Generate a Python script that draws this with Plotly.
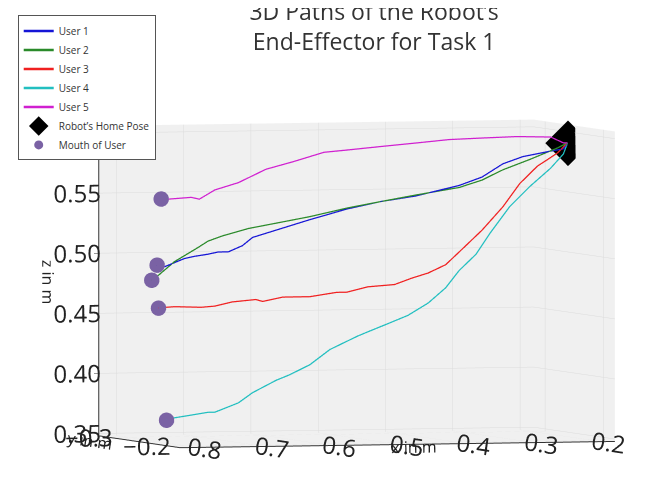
import plotly.graph_objects as go

# ---- data (metres) ----
user1_x = [0.789, 0.759, 0.744, 0.724, 0.709, 0.694, 0.673, 0.658, 0.623, 0.573, 0.518, 0.468, 0.416, 0.351, 0.317, 0.286, 0.256, 0.215, 0.196]
user1_z = [0.4933, 0.5000, 0.5017, 0.5033, 0.5050, 0.5050, 0.5100, 0.5167, 0.5225, 0.5308, 0.5392, 0.5450, 0.5492, 0.5575, 0.5642, 0.5750, 0.5808, 0.5850, 0.5867]

user2_x = [0.797, 0.774, 0.741, 0.724, 0.703, 0.664, 0.623, 0.573, 0.518, 0.468, 0.416, 0.351, 0.317, 0.286, 0.246, 0.205]
user2_z = [0.4867, 0.4975, 0.5083, 0.5142, 0.5183, 0.5242, 0.5283, 0.5333, 0.5400, 0.5450, 0.5500, 0.5558, 0.5617, 0.5700, 0.5783, 0.5875]

user3_x = [0.774, 0.734, 0.714, 0.688, 0.653, 0.643, 0.613, 0.573, 0.533, 0.518, 0.487, 0.447, 0.422, 0.397, 0.371, 0.347, 0.317, 0.286, 0.261, 0.235, 0.205]
user3_z = [0.4600, 0.4592, 0.4600, 0.4633, 0.4650, 0.4633, 0.4667, 0.4667, 0.4700, 0.4700, 0.4742, 0.4758, 0.4808, 0.4850, 0.4917, 0.5042, 0.5200, 0.5392, 0.5583, 0.5725, 0.5833]

user4_x = [0.774, 0.724, 0.714, 0.679, 0.658, 0.623, 0.604, 0.573, 0.543, 0.502, 0.487, 0.457, 0.427, 0.397, 0.371, 0.351, 0.326, 0.306, 0.276, 0.246, 0.215, 0.196]
user4_z = [0.3675, 0.3717, 0.3717, 0.3792, 0.3875, 0.3975, 0.4017, 0.4100, 0.4225, 0.4333, 0.4367, 0.4433, 0.4500, 0.4600, 0.4725, 0.4867, 0.5000, 0.5167, 0.5392, 0.5558, 0.5708, 0.5825]

user5_x = [0.794, 0.749, 0.737, 0.714, 0.679, 0.638, 0.598, 0.552, 0.518, 0.468, 0.416, 0.366, 0.317, 0.265, 0.215, 0.196]
user5_z = [0.5492, 0.5508, 0.5492, 0.5567, 0.5625, 0.5733, 0.5792, 0.5867, 0.5883, 0.5908, 0.5933, 0.5958, 0.5967, 0.5975, 0.5967, 0.5917]

path_y = [-0.25, -0.25, -0.25, -0.25, -0.25]
home_pose = [0.190, -0.25, 0.5917]

mouth_x = [0.800, 0.808, 0.798, 0.786, 0.794]
mouth_y = [-0.25, -0.25, -0.25, -0.25, -0.25]
mouth_z = [0.4950, 0.4825, 0.4592, 0.3658, 0.5500]

names = ["User 1", "User 2", "User 3", "User 4", "User 5"]
colors = ["#1515d6", "#2a8a2a", "#f02020", "#22bfc0", "#d020d0"]

x_ticks = [0.2, 0.3, 0.4, 0.5, 0.6, 0.7, 0.8]
y_ticks = [-0.3, -0.2]
z_ticks = [0.35, 0.40, 0.45, 0.50, 0.55, 0.60]

paths_x = [user1_x, user2_x, user3_x, user4_x, user5_x]
paths_z = [user1_z, user2_z, user3_z, user4_z, user5_z]

fig = go.Figure()
for i in range(5):
    n = len(paths_x[i])
    fig.add_trace(go.Scatter3d(
        x=[mouth_x[i]] + paths_x[i] + [home_pose[0]],
        y=[path_y[i]] * (n + 2),
        z=[mouth_z[i]] + paths_z[i] + [home_pose[2]],
        mode="lines", name=names[i],
        line=dict(color=colors[i], width=2.5),
    ))

fig.add_trace(go.Scatter3d(
    x=[home_pose[0]], y=[home_pose[1]], z=[home_pose[2]],
    mode="markers", name="Robot’s Home Pose",
    marker=dict(symbol="diamond", size=15, color="black"),
))
fig.add_trace(go.Scatter3d(
    x=mouth_x, y=mouth_y, z=mouth_z,
    mode="markers", name="Mouth of User",
    marker=dict(symbol="circle", size=9, color="#7a62a4"),
))

axis_common = dict(
    showbackground=True, backgroundcolor="#f0f0f0",
    gridcolor="#dcdcdc", gridwidth=1,
    zeroline=False, showspikes=False,
    linecolor="#333333", linewidth=2, showline=True,
    ticks="outside", tickcolor="#333333",
    tickfont=dict(family="Open Sans", size=17, color="#222222"),
    title_font=dict(family="Open Sans", size=16, color="#222222"),
)

fig.update_layout(
    width=648, height=493,
    margin=dict(l=0, r=0, t=0, b=0),
    paper_bgcolor="white",
    font=dict(family="Open Sans", color="#222222"),
    title=dict(text="3D Paths of the Robot’s<br>End-Effector for Task 1",
               x=0.565, xanchor="center", y=0.975, yanchor="top",
               font=dict(family="Open Sans", size=23, color="#333333")),
    legend=dict(x=0.015, y=0.985, xanchor="left", yanchor="top",
                bordercolor="#555555", borderwidth=1, bgcolor="white",
                font=dict(family="Open Sans", size=10, color="#333333"),
                tracegroupgap=0),
    scene=dict(
        domain=dict(x=[0.0, 1.0], y=[0.0, 0.88]),
        xaxis=dict(axis_common, title_text="x in m", range=[0.18, 0.826], tickvals=x_ticks),
        yaxis=dict(axis_common, title_text="y in m", range=[-0.32, -0.18], tickvals=y_ticks),
        zaxis=dict(axis_common, title_text="z in m", range=[0.348, 0.606], tickvals=z_ticks,
                   tickformat=".2f"),
        aspectmode="manual", aspectratio=dict(x=2.1, y=1.25, z=1.43),
        camera=dict(eye=dict(x=0.414, y=0.936, z=0.045), up=dict(x=0, y=0, z=1),
                    center=dict(x=0.12, y=0, z=0),
                    projection=dict(type="orthographic")),
    ),
)

fig.write_html("out.html")
